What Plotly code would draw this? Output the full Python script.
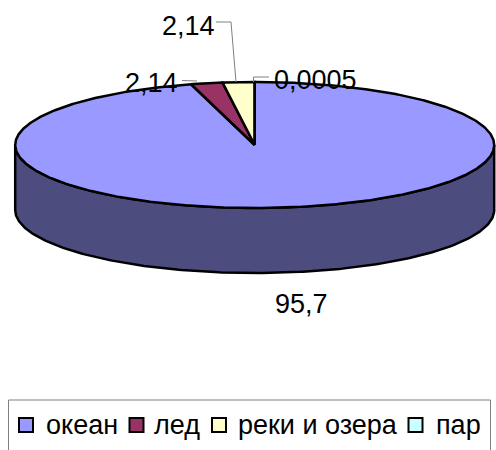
import numpy as np
import plotly.graph_objects as go

categories = ["океан", "лед", "реки и озера", "пар"]
values = [95.7, 2.14, 2.14, 0.0005]
value_labels = ["95,7", "2,14", "2,14", "0,0005"]
colors = ["#9999FF", "#993366", "#FFFFCC", "#CCFFFF"]
side_color = "#4C4C7F"

CX, CY, RX, RY, DEPTH = 254.7, 145, 239.5, 63, 65
FONT = "Liberation Sans, Arial, sans-serif"


def pt(t, dy=0.0):
    return CX + RX * np.sin(t), CY - RY * np.cos(t) + dy


fig = go.Figure()

# side wall of the disc (visible front half)
t = np.linspace(np.pi / 2, 3 * np.pi / 2, 240)
x1, y1 = pt(t)
x2, y2 = pt(t[::-1], DEPTH)
fig.add_trace(go.Scatter(x=np.r_[x1, x2, x1[0]], y=np.r_[y1, y2, y1[0]], mode="lines", fill="toself",
                         fillcolor=side_color, line=dict(color="black", width=2.5), hoverinfo="skip"))

# slices on top, clockwise from 12 o'clock
fractions = np.cumsum([0] + values) / sum(values) * 2 * np.pi
for i, name in enumerate(categories):
    t = np.linspace(fractions[i], fractions[i + 1], max(3, int(720 * values[i] / sum(values))))
    ax, ay = pt(t)
    fig.add_trace(go.Scatter(x=np.r_[CX, ax, CX], y=np.r_[CY, ay, CY], mode="lines", fill="toself",
                             fillcolor=colors[i], line=dict(color="black", width=2.5), name=name,
                             hoverinfo="name"))

# leader lines
LEADER = dict(mode="lines", line=dict(color="#808080", width=1), hoverinfo="skip")
fig.add_trace(go.Scatter(x=[216, 231, 236], y=[22, 22, 82], **LEADER))
fig.add_trace(go.Scatter(x=[182, 197], y=[80.5, 81], **LEADER))
fig.add_trace(go.Scatter(x=[253.5, 253.5, 269], y=[82, 77, 77], **LEADER))

# legend swatches
swatch_x = [26, 136.5, 219, 415.5]
text_x = [44, 152, 236, 434]
fig.add_trace(go.Scatter(x=swatch_x, y=[425] * 4, mode="markers", hoverinfo="skip",
                         marker=dict(symbol="square", size=14, color=colors,
                                     line=dict(color="black", width=2))))

label_pos = [(301, 304), (188.5, 26), (151.5, 83), (315.5, 80)]
annotations = [dict(x=x, y=y, text=s, showarrow=False, xanchor="center", yanchor="middle",
                    font=dict(family=FONT, size=27, color="black"))
               for (x, y), s in zip(label_pos, value_labels)]
annotations += [dict(x=x, y=425, text=s, showarrow=False, xanchor="left", yanchor="middle",
                     font=dict(family=FONT, size=27, color="black"))
                for x, s in zip(text_x, categories)]

fig.update_layout(
    width=496, height=450, margin=dict(l=0, r=0, t=0, b=0), autosize=False,
    paper_bgcolor="white", plot_bgcolor="white", showlegend=False,
    xaxis=dict(range=[0, 496], visible=False, fixedrange=True),
    yaxis=dict(range=[450, 0], visible=False, fixedrange=True),
    annotations=annotations,
    shapes=[dict(type="rect", x0=8.5, x1=490.5, y0=400, y1=460, line=dict(color="#808080", width=1))],
)
fig.write_html("out.html", config=dict(displayModeBar=False),
               post_script="document.body.style.margin='0';document.body.style.overflow='hidden';")
